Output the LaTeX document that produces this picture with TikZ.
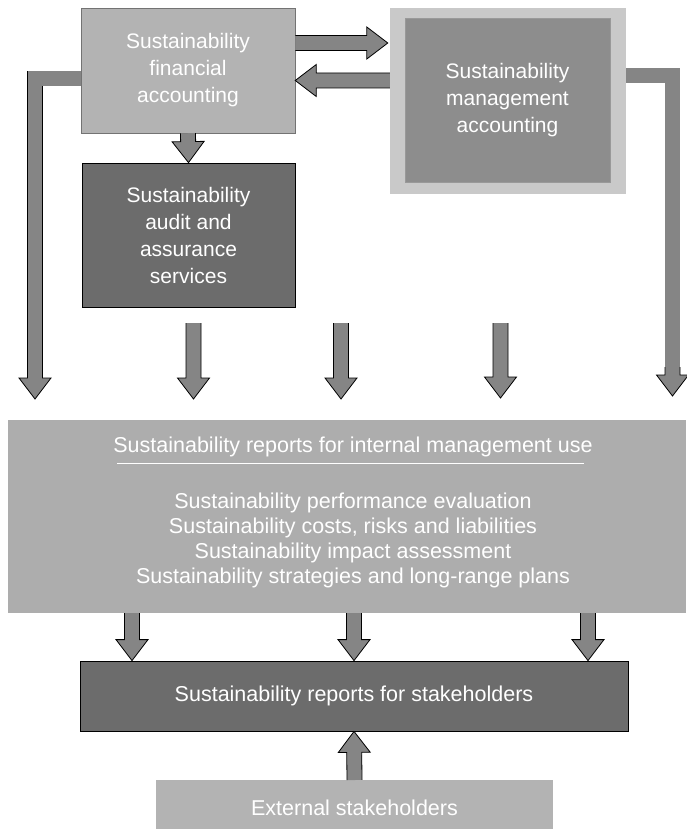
\documentclass[tikz,border=0pt]{standalone}
\usepackage{fontspec}
\setmainfont{Liberation Sans}
\usetikzlibrary{calc}

\definecolor{lightfill}{HTML}{B3B3B3}
\definecolor{darkfill}{HTML}{6C6C6C}
\definecolor{midfill}{HTML}{8D8D8D}
\definecolor{halofill}{HTML}{C9C9C9}
\definecolor{widefill}{HTML}{ADADAD}
\definecolor{arrowfill}{HTML}{858585}

\tikzset{
  box/.style={rectangle, inner sep=0pt, text=white, align=center,
    font=\fontsize{21}{27}\selectfont},
  lightbox/.style={box, fill=lightfill, draw=black!55, line width=0.5pt},
  darkbox/.style={box, fill=darkfill, draw=black, line width=0.8pt},
  label/.style={text=white, align=center, inner sep=0pt,
    font=\fontsize{21.5}{25}\selectfont},
  % straight block arrow: shaft 15pt wide, head 32pt wide and 21pt long;
  % the back edge of the shaft is left unstroked
  blockarrow/.style={fill=arrowfill, draw=black, line width=0.8pt, line join=miter,
    to path={
      let \p1=(\tikztostart), \p2=(\tikztotarget), \p3=($(\p2)!21pt!(\p1)$) in
      ($(\p1)!7.5pt!90:(\p2)$) -- ($(\p3)!7.5pt!90:(\p2)$) -- ($(\p3)!16pt!90:(\p2)$)
      -- (\p2)
      -- ($(\p3)!16pt!-90:(\p2)$) -- ($(\p3)!7.5pt!-90:(\p2)$) -- ($(\p1)!7.5pt!-90:(\p2)$)}},
  % outlined shaft for the bent arrows
  shaft/.style={draw=black, line width=0.8pt, double=arrowfill,
    double distance=14.2pt, line join=miter},
}

\begin{document}
\begin{tikzpicture}[x=1pt, y=1pt]
\useasboundingbox (0,0) rectangle (686,-829);

% ---- top row --------------------------------------------------------
\node[lightbox, minimum width=214pt, minimum height=125pt] (fin) at (188,-70.5)
  {Sustainability\\financial\\accounting};
\node[darkbox, minimum width=213pt, minimum height=144pt] (audit) at (188.5,-235)
  {Sustainability\\audit and\\assurance\\services};
\node[rectangle, fill=halofill, minimum width=236pt, minimum height=186pt] (halo)
  at (508,-101) {};
\node[box, fill=midfill, draw=black!40, line width=0.4pt,
  minimum width=205pt, minimum height=164pt] (mgmt) at (507.5,-100)
  {Sustainability\\management\\accounting};

% ---- report boxes ---------------------------------------------------
\node[rectangle, fill=widefill, minimum width=678pt, minimum height=193pt] (internal)
  at (347,-516.5) {};
\node[label] (title) at (353,-447) {Sustainability reports for internal management use};
\draw[white, line width=1pt] (117,-463) -- (584,-463);
\node[label] (uses) at (353,-540)
  {Sustainability performance evaluation\\
   Sustainability costs, risks and liabilities\\
   Sustainability impact assessment\\
   Sustainability strategies and long-range plans};

\node[darkbox, minimum width=548pt, minimum height=70pt,
  font=\fontsize{21.5}{25}\selectfont] (stake) at (354,-696)
  {Sustainability reports for stakeholders};
\node[lightbox, draw=none, minimum width=397pt, minimum height=56pt,
  font=\fontsize{21.5}{25}\selectfont, anchor=north] (ext) at (354.5,-780)
  {External stakeholders};

% ---- arrows between the accounting boxes ------------------------------
\draw[blockarrow] ($(fin.east)+(0,27.5)$) to ($(halo.west)+(-2,58)$);
\draw[blockarrow] ($(halo.west)+(0,20.5)$) to ($(fin.east)+(0,-10)$);
\draw[blockarrow] (fin.south) to (audit.north);

% ---- arrows feeding the internal reports -------------------------------
\coordinate (lneck) at (35,-374);
\coordinate (ltip)  at (35,-399);
\draw[shaft] ($(fin.west)+(0,-8)$) -| (lneck);
\draw[blockarrow] ($(lneck)+(0,4)$) to (ltip);

\coordinate (rneck) at (672.5,-371);
\coordinate (rtip)  at (672.5,-396);
\draw[shaft] ($(halo.east)+(0,25.5)$) -| (rneck);
\draw[blockarrow] ($(rneck)+(0,4)$) to (rtip);

\coordinate (s1) at (193.5,-323);  \coordinate (t1) at (193.5,-399);
\coordinate (s2) at (341,-323);    \coordinate (t2) at (341,-399);
\coordinate (s3) at (500.5,-323);  \coordinate (t3) at (500.5,-398);
\draw[blockarrow] (s1) to (t1);
\draw[blockarrow] (s2) to (t2);
\draw[blockarrow] (s3) to (t3);

% ---- arrows into the stakeholder reports -------------------------------
\draw[blockarrow] ([xshift=-215pt]internal.south) to ([xshift=-222pt]stake.north);
\draw[blockarrow] ([xshift=7pt]internal.south) to (stake.north);
\draw[blockarrow] ([xshift=241pt]internal.south) to ([xshift=234pt]stake.north);
\draw[blockarrow] (ext.north) to (stake.south);
\end{tikzpicture}
\end{document}
